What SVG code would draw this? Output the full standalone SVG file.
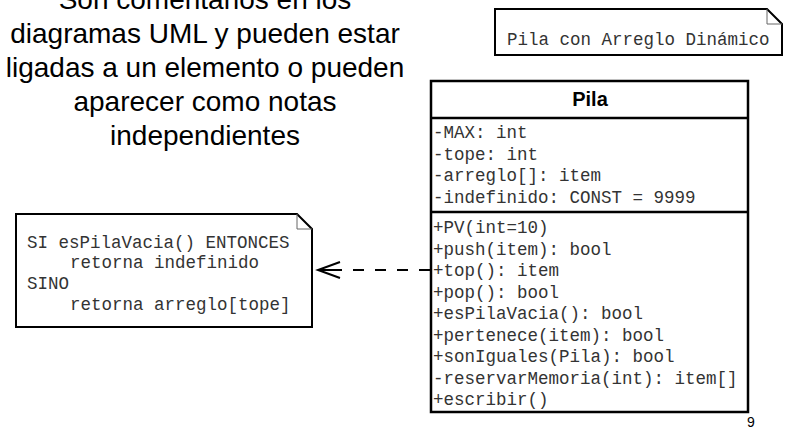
<svg xmlns="http://www.w3.org/2000/svg" width="792" height="432" viewBox="0 0 792 432">
  <style>
    .heading { font-family: "Liberation Sans", Arial, sans-serif; font-size: 28px; fill: #000; text-anchor: middle; }
    .mono { font-family: "Liberation Mono", "Courier New", monospace; font-size: 17.5px; fill: #333; }
    .title { font-family: "Liberation Sans", Arial, sans-serif; font-size: 20px; font-weight: bold; fill: #000; text-anchor: middle; }
    .box { fill: #fff; stroke: #000; stroke-width: 2.5; }
    .note { fill: #fff; stroke: #000; stroke-width: 2; stroke-linejoin: miter; }
    .fold { fill: none; stroke: #666; stroke-width: 1; }
    .sep { stroke: #000; stroke-width: 2.5; }
    .conn { stroke: #000; stroke-width: 2; fill: none; }
    .page { font-family: "Liberation Sans", Arial, sans-serif; font-size: 14px; fill: #000; text-anchor: middle; }
  </style>
  <rect width="792" height="432" fill="#fff"/>

  <g id="heading">
    <text class="heading" x="205" y="9">Son comentarios en los</text>
    <text class="heading" x="205" y="43">diagramas UML y pueden estar</text>
    <text class="heading" x="205" y="77">ligadas a un elemento o pueden</text>
    <text class="heading" x="205" y="111">aparecer como notas</text>
    <text class="heading" x="205" y="145">independientes</text>
  </g>

  <g id="note-title">
    <path class="note" d="M495,9 H767 L782,24 V55 H495 Z"/>
    <path class="fold" d="M767,9 V24 H782"/>
    <text class="mono" x="507" y="45">Pila con Arreglo Dinámico</text>
  </g>

  <g id="class-pila">
    <rect class="box" x="431" y="81" width="317" height="331"/>
    <line class="sep" x1="431" y1="118" x2="748" y2="118"/>
    <line class="sep" x1="431" y1="212" x2="748" y2="212"/>
    <text class="title" x="590" y="106">Pila</text>
    <text class="mono" x="433" y="138">-MAX: int</text>
    <text class="mono" x="433" y="159.5">-tope: int</text>
    <text class="mono" x="433" y="181">-arreglo[]: item</text>
    <text class="mono" x="433" y="202.5">-indefinido: CONST = 9999</text>
    <text class="mono" x="433" y="233">+PV(int=10)</text>
    <text class="mono" x="433" y="254.5">+push(item): bool</text>
    <text class="mono" x="433" y="276">+top(): item</text>
    <text class="mono" x="433" y="297.5">+pop(): bool</text>
    <text class="mono" x="433" y="319">+esPilaVacia(): bool</text>
    <text class="mono" x="433" y="340.5">+pertenece(item): bool</text>
    <text class="mono" x="433" y="362">+sonIguales(Pila): bool</text>
    <text class="mono" x="433" y="383.5">-reservarMemoria(int): item[]</text>
    <text class="mono" x="433" y="405">+escribir()</text>
  </g>

  <g id="note-top">
    <path class="note" d="M16,214 H297 L312,229 V327 H16 Z"/>
    <path class="fold" d="M297,214 V229 H312"/>
    <text class="mono" x="27" y="248">SI esPilaVacia() ENTONCES</text>
    <text class="mono" x="70" y="268">retorna indefinido</text>
    <text class="mono" x="27" y="289">SINO</text>
    <text class="mono" x="70" y="310">retorna arreglo[tope]</text>
  </g>

  <g id="connectors">
    <line class="conn" x1="430" y1="270" x2="318" y2="270" stroke-dasharray="11 11"/>
    <line class="conn" x1="318" y1="270" x2="334" y2="270"/>
    <polyline class="conn" points="340,262 318,270 340,278"/>
  </g>

  <text class="page" x="751" y="427">9</text>
</svg>
